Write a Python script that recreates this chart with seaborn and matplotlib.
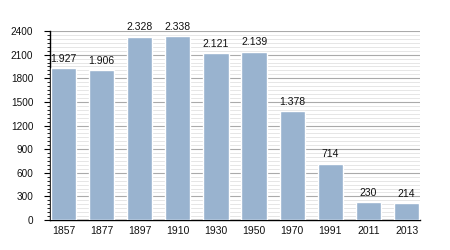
import matplotlib
matplotlib.use("Agg")
import matplotlib.pyplot as plt
import seaborn as sns
import pandas as pd
from matplotlib.ticker import MultipleLocator

years = ["1857", "1877", "1897", "1910", "1930", "1950", "1970", "1991", "2011", "2013"]
population = [1927, 1906, 2328, 2338, 2121, 2139, 1378, 714, 230, 214]
y_ticks = [0, 300, 600, 900, 1200, 1500, 1800, 2100, 2400]

df = pd.DataFrame({"year": years, "pop": population})

sns.set_style("white")
plt.rcParams["font.family"] = ["Liberation Sans", "DejaVu Sans"]

fig = plt.figure(figsize=(4.5, 2.5), dpi=100)
ax = fig.add_axes([50 / 450, 30 / 250, 370 / 450, 189 / 250])

sns.barplot(data=df, x="year", y="pop", color="#99b3cf", width=0.66,
            saturation=1, ax=ax, zorder=3)

ax.set_ylim(0, 2400)
ax.set_xlim(-0.35, 9.35)
ax.set_yticks(y_ticks)
ax.yaxis.set_minor_locator(MultipleLocator(50))
ax.grid(which="major", axis="y", color="#aaaaaa", linewidth=0.8, zorder=0)
ax.grid(which="minor", axis="y", color="#e2e2e2", linewidth=0.6, zorder=0)
ax.set_axisbelow(True)

for s in ["top", "right"]:
    ax.spines[s].set_visible(False)
for s in ["left", "bottom"]:
    ax.spines[s].set_color("black")
    ax.spines[s].set_linewidth(1.0)

ax.tick_params(axis="y", which="major", length=4, width=0.8, color="black",
               labelsize=7.2, pad=8, left=True, labelcolor="#111111")
ax.tick_params(axis="y", which="minor", length=2, width=0.6, color="black", left=True)
ax.tick_params(axis="x", length=0, labelsize=7.5, pad=4, labelcolor="#111111")
ax.set_xlabel("")
ax.set_ylabel("")

for i, v in enumerate(population):
    lab = f"{v:,}".replace(",", ".")
    ax.text(i, v + 55, lab, ha="center", va="bottom", fontsize=7.5,
            color="#111111", clip_on=False)

fig.savefig("out.png", dpi=100)
